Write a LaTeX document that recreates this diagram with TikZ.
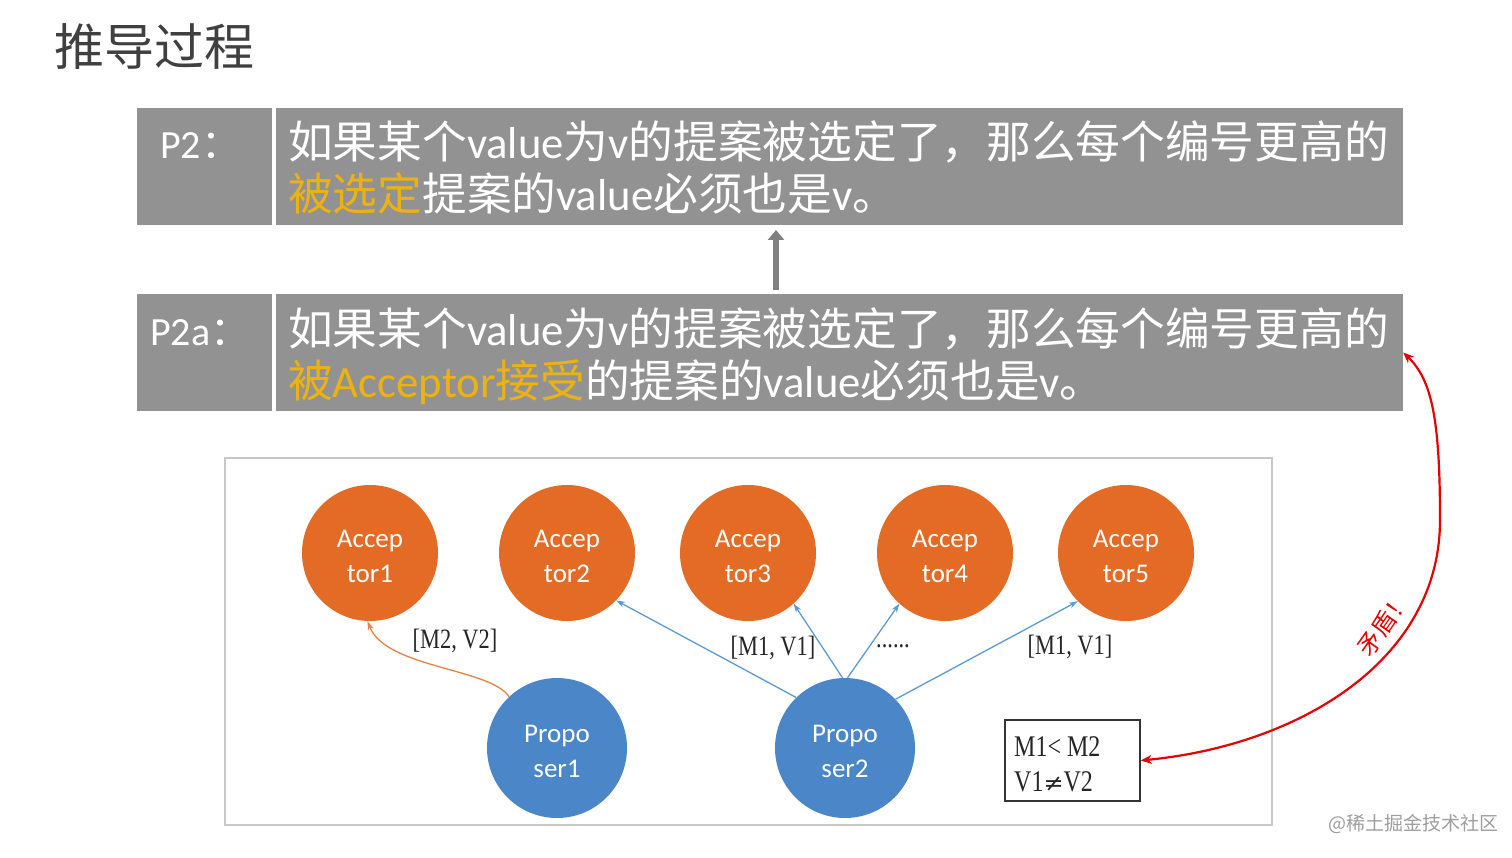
\documentclass[tikz,border=0pt]{standalone}
\usepackage{fontspec}
\setmainfont{Carlito}
\newfontfamily\cjk{Noto Sans CJK SC}
\newfontfamily\cserif[FakeStretch=0.8]{Liberation Serif}
\newfontfamily\symfont{DejaVu Serif}
\usetikzlibrary{arrows.meta}
\definecolor{boxgray}{RGB}{146,146,146}
\definecolor{hiyellow}{RGB}{236,178,20}
\definecolor{accorange}{RGB}{228,107,37}
\definecolor{propblue}{RGB}{74,134,200}
\definecolor{linkblue}{RGB}{91,155,213}
\definecolor{titlegray}{RGB}{64,64,64}
\definecolor{framegray}{RGB}{200,200,200}
\definecolor{redline}{RGB}{232,0,0}
\tikzset{
  graybox/.style={fill=boxgray, draw=none, inner sep=0pt},
  boxtext/.style={inner sep=0pt, anchor=base west, text=white, font=\fontsize{44.7}{52}\selectfont},
  acc/.style={circle, fill=accorange, draw=none, minimum size=136pt, inner sep=0pt, text=white, align=center, font=\fontsize{27}{35}\selectfont},
  prop/.style={circle, fill=propblue, draw=none, minimum size=140pt, inner sep=0pt, text=white, align=center, font=\fontsize{27}{35}\selectfont},
  bluelink/.style={draw=linkblue, line width=1.3pt, -{Stealth[length=9pt,width=6pt]}},
  msg/.style={inner sep=0pt, font=\cserif\fontsize{28}{32}\selectfont, text=black!85},
}
\begin{document}
\begin{tikzpicture}[x=1pt,y=-1pt]
\useasboundingbox (0,0) rectangle (1512,858);
\fill[white] (0,0) rectangle (1512,858);

% title
\node[inner sep=0pt, anchor=base west, text=titlegray, font=\cjk\fontsize{50}{56}\selectfont] (title) at (54,66) {推导过程};

% P2 box
\node[graybox, minimum width=135pt, minimum height=117pt] (p2lab) at (204.5,166.5) {};
\node[graybox, minimum width=1127pt, minimum height=117pt] (p2box) at (839.5,166.5) {};
\node[boxtext, font=\fontsize{40}{48}\selectfont] (p2l) at (160,159) {P2{\cjk ：}};
\node[boxtext] (p2t1) at (288,159) {{\cjk 如果某个}value{\cjk 为}v{\cjk 的提案被选定了，那么每个编号更高的}};
\node[boxtext] (p2t2) at (288,211) {\textcolor{hiyellow}{\cjk 被选定}{\cjk 提案的}value{\cjk 必须也是}v{\cjk 。}};

% P2a box
\node[graybox, minimum width=135pt, minimum height=117pt] (p2alab) at (204.5,352.5) {};
\node[graybox, minimum width=1127pt, minimum height=117pt] (p2abox) at (839.5,352.5) {};
\node[boxtext, font=\fontsize{40}{48}\selectfont] (p2al) at (150,345) {P2a{\cjk ：}};
\node[boxtext] (p2at1) at (288,345) {{\cjk 如果某个}value{\cjk 为}v{\cjk 的提案被选定了，那么每个编号更高的}};
\node[boxtext] (p2at2) at (288,397) {\textcolor{hiyellow}{{\cjk 被}Acceptor{\cjk 接受}}{\cjk 的提案的}value{\cjk 必须也是}v{\cjk 。}};

% gray arrow
\draw[draw=boxgray!88!black, line width=6pt, -{Triangle[length=10pt,width=16pt]}, shorten <=4pt, shorten >=5pt] (776,294) -- (776,225);

% frame
\node[draw=framegray, line width=1.5pt, minimum width=1047pt, minimum height=367pt, inner sep=0pt] (frame) at (748.5,641.5) {};

% acceptors
\node[acc] (a1) at (370,553) {\strut Accep\\tor1};
\node[acc] (a2) at (567,553) {\strut Accep\\tor2};
\node[acc] (a3) at (748,553) {\strut Accep\\tor3};
\node[acc] (a4) at (945,553) {\strut Accep\\tor4};
\node[acc] (a5) at (1126,553) {\strut Accep\\tor5};

% proposers
\node[prop] (p1) at (557,748) {\strut Propo\\ser1};
\node[prop] (p2) at (845,748) {\strut Propo\\ser2};

% links
\draw[draw=accorange!85!white, line width=1.3pt, -{Stealth[length=9pt,width=6pt]}] (p1.133) .. controls (490,668) and (385,668) .. (a1.268);
\draw[bluelink] (p2.134) -- (a2.316);
\draw[bluelink] (p2.92) -- (a3.312);
\draw[bluelink] (p2.88) -- (a4.228);
\draw[bluelink] (p2.44) -- (a5.225);

% labels
\node[msg] (l1) at (455,641) {[M2, V2]};
\node[msg] (l2) at (773,648) {[M1, V1]};
\node[msg] (l3) at (893,646) {......};
\node[msg] (l4) at (1070,647) {[M1, V1]};

% condition box
\node[draw=black!80, line width=1.5pt, minimum width=135pt, minimum height=81pt, inner sep=0pt] (cond) at (1072.5,760.5) {};
\node[msg, anchor=base west, font=\cserif\fontsize{30}{34}\selectfont] (c1) at (1014,756) {M1<~M2};
\node[msg, anchor=base west, font=\cserif\fontsize{30}{34}\selectfont] (c2) at (1014,791) {V1{\symfont\fontsize{24}{28}\selectfont ≠}V2};

% red contradiction arrow
\draw[draw=redline, line width=2.2pt, {Stealth[length=11pt,width=9pt]}-{Stealth[length=11pt,width=9pt]}] (cond.east) .. controls (1300,745) and (1440,660) .. (1440,520) .. controls (1440,420) and (1432,380) .. (p2abox.east);
\node[text=redline, rotate=55, inner sep=0pt, font=\cjk\fontsize{24}{28}\selectfont] (contra) at (1384,624) {矛盾！};

% watermark
\node[inner sep=0pt, anchor=west, text=black!38, font=\cjk\fontsize{19}{22}\selectfont] (wm) at (1328,824) {@稀土掘金技术社区};
\end{tikzpicture}
\end{document}
